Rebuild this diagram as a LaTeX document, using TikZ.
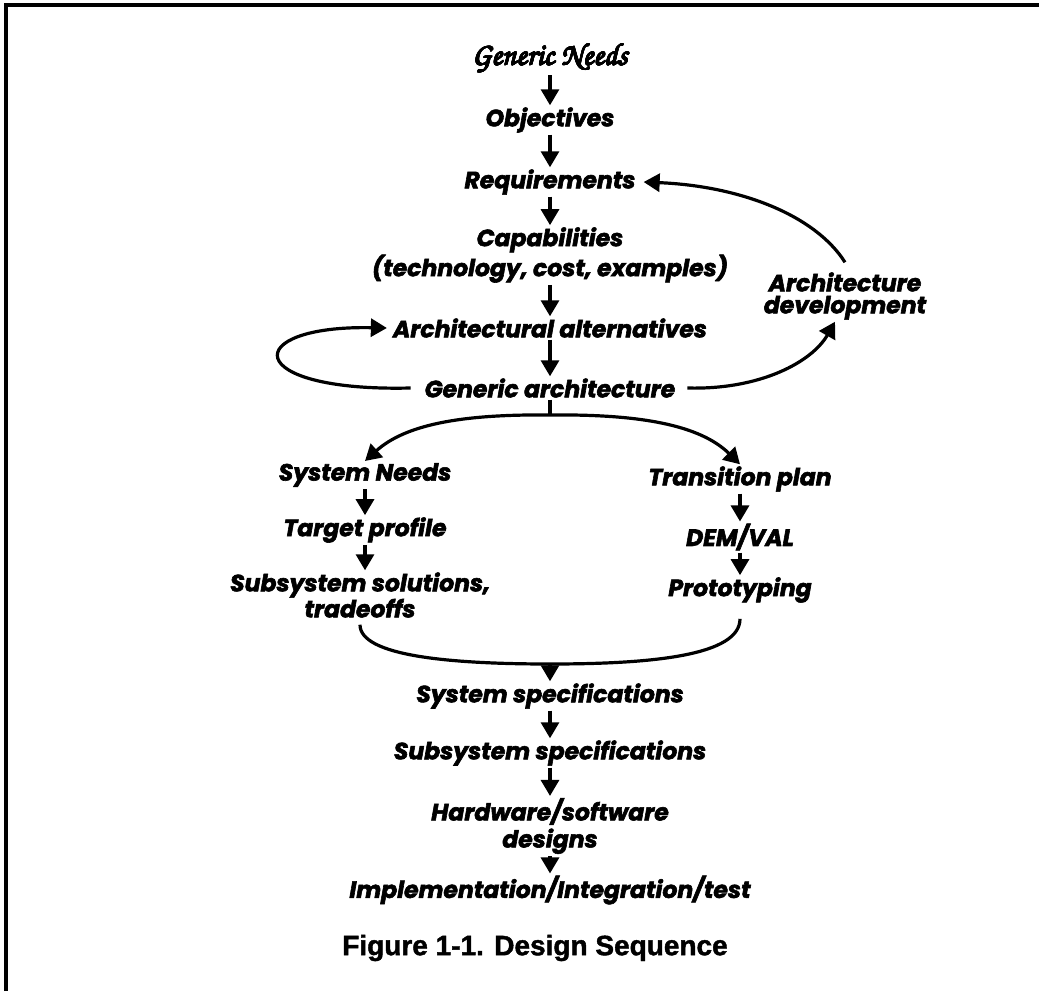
\documentclass[tikz,border=0pt]{standalone}
\usepackage[T1,TU]{fontenc}
\usepackage{fontspec}
\usepackage{contour}
\newfontfamily\flowfont{Poppins}[BoldItalicFeatures={FakeBold=2.5}]
\newfontfamily\captionfont{Liberation Sans}[BoldFeatures={FakeBold=1.5}]
\usetikzlibrary{arrows.meta}
% calligraphic face for the opening item
\newcommand\chanceryface{\fontencoding{T1}\fontfamily{pzc}\fontseries{m}\fontshape{it}\selectfont}
\contourlength{0.5pt}
\contournumber{16}

\tikzset{
  lbl/.style={font=\flowfont\bfseries\itshape\fontsize{23.5}{26}\selectfont,
              inner sep=2pt, align=center},
  link/.style={line width=3.2pt},
  arr/.style={link, -{Triangle[width=18pt,length=16pt]}},
}

\begin{document}
\begin{tikzpicture}[x=1pt,y=-1pt]
\useasboundingbox (0,0) rectangle (1039,991);
% frame along the top and the left side
\draw[line width=4pt] (6,991) -- (6,5) -- (1039,5);

% main column
\node[inner sep=2pt, font=\chanceryface\fontsize{31}{34}\selectfont] (gn) at (550,58) {\contour{black}{Generic Needs}};
\node[lbl] (obj) at (550,120) {Objectives};
\node[lbl] (req) at (550,182) {Requirements};
\node[lbl, font=\flowfont\bfseries\itshape\fontsize{23.5}{30}\selectfont] (capab) at (550,255) {Capabilities\\(technology, cost, examples)};
\node[lbl] (alt) at (550,328) {Architectural alternatives};
\node[lbl] (ga) at (550,388) {Generic architecture};
\node[lbl, font=\flowfont\bfseries\itshape\fontsize{23.5}{22}\selectfont] (ad) at (845,296) {Architecture\\development};

% left branch
\node[lbl] (sn) at (365,475) {System Needs};
\node[lbl] (tgt) at (365,530) {Target profile};
\node[lbl, font=\flowfont\bfseries\itshape\fontsize{23.5}{26}\selectfont] (sol) at (360,595) {Subsystem solutions,\\tradeoffs};

% right branch
\node[lbl] (trp) at (740,479) {Transition plan};
\node[lbl] (dv) at (740,537) {DEM/VAL};
\node[lbl] (pr) at (740,590) {Prototyping};

% lower column
\node[lbl] (ss) at (550,696) {System specifications};
\node[lbl] (subs) at (550,753) {Subsystem specifications};
\node[lbl, font=\flowfont\bfseries\itshape\fontsize{23.5}{27}\selectfont] (hw) at (550,826) {Hardware/software\\designs};
\node[lbl] (impl) at (550,890) {Implementation/Integration/test};

\node[font=\captionfont\bfseries\fontsize{28}{30}\selectfont, inner sep=0pt] (title) at (535,948) {Figure 1-1. Design Sequence};

% straight steps
\draw[arr] (gn) -- (obj);
\draw[arr] (obj) -- (req);
\draw[arr] (req) -- (capab);
\draw[arr] (capab) -- (alt);
\draw[arr] (alt) -- (ga);
\draw[arr] (sn.south) -- (sn.south |- tgt.north);
\draw[arr] (tgt.south) -- (tgt.south |- sol.north);
\draw[arr] (trp.south) -- (trp.south |- dv.north);
\draw[arr] (dv.south) -- (dv.south |- pr.north);
\draw[arr] (ss) -- (subs);
\draw[arr] (subs) -- (hw);
\draw[arr] (hw) -- (impl);

% loop back to the alternatives
\draw[arr] ([xshift=-12pt]ga.west) .. controls (240,392) and (240,325) .. ([xshift=-4pt]alt.west);

% architecture development feedback
\draw[arr] ([xshift=10pt]ga.east) .. controls (760,390) and (812,362) .. ([xshift=-10pt]ad.south);
\draw[arr] ([yshift=8pt]ad.north) .. controls (815,215) and (740,186) .. ([xshift=6pt]req.east);

% fork into the two branches
\coordinate (fork) at (550,415);
\draw[link] (ga.south) -- (fork);
\draw[arr] (fork) .. controls (460,414) and (405,425) .. (sn.north);
\draw[arr] (fork) .. controls (640,414) and (700,425) .. (trp.north);

% branches rejoin
\coordinate (join) at (550,664);
\draw[link] ([yshift=-5pt]sol.south) .. controls (360,656) and (450,664) .. (join)
            .. controls (650,664) and (740,656) .. ([yshift=-14pt]pr.south);
\draw[arr] (join) -- (ss);
\end{tikzpicture}
\end{document}
